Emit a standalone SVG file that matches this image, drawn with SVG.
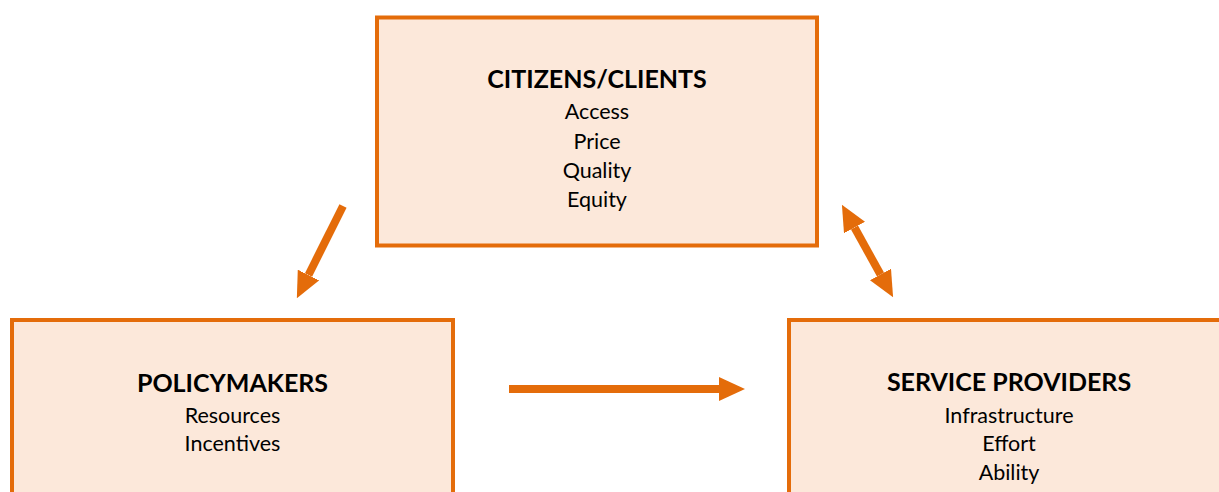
<svg xmlns="http://www.w3.org/2000/svg" width="1219" height="492" viewBox="0 0 1219 492">
<style>
.box{fill:#FCE8DA;stroke:#E46C0A;stroke-width:4}
.t{font-family:Lato,"Open Sans","Liberation Sans",sans-serif;font-weight:bold;font-size:25px;fill:#000;text-anchor:middle}
.b{font-family:Lato,"Open Sans","Liberation Sans",sans-serif;font-size:21.5px;fill:#000;text-anchor:middle}
.c{stroke:#E46C0A;stroke-width:8;fill:none}
</style>
<defs>
<marker id="ah" viewBox="0 0 26 24" refX="0" refY="12" markerWidth="26" markerHeight="24" markerUnits="userSpaceOnUse" orient="auto-start-reverse">
<path d="M0,0 L26,12 L0,24 z" fill="#E46C0A"/>
</marker>
</defs>
<rect width="1219" height="492" fill="#fff"/>
<g id="citizens">
<rect class="box" x="377" y="17.5" width="440" height="228"/>
<text class="t" x="597" y="88">CITIZENS/CLIENTS</text>
<text class="b" x="597" y="119">Access</text>
<text class="b" x="597" y="148.5">Price</text>
<text class="b" x="597" y="177.5">Quality</text>
<text class="b" x="597" y="206.5">Equity</text>
</g>
<g id="policymakers">
<rect class="box" x="12" y="320" width="441" height="180"/>
<text class="t" x="232.5" y="391.5">POLICYMAKERS</text>
<text class="b" x="232.5" y="422.5">Resources</text>
<text class="b" x="232.5" y="451">Incentives</text>
</g>
<g id="providers">
<rect class="box" x="789" y="320" width="436" height="180"/>
<text class="t" x="1009" y="391">SERVICE PROVIDERS</text>
<text class="b" x="1009" y="422.5">Infrastructure</text>
<text class="b" x="1009" y="451">Effort</text>
<text class="b" x="1009" y="480">Ability</text>
</g>
<g id="connectors">
<line class="c" x1="343" y1="206" x2="308.5" y2="275" marker-end="url(#ah)"/>
<line class="c" x1="854.5" y1="227.5" x2="880.5" y2="274.5" marker-start="url(#ah)" marker-end="url(#ah)"/>
<line class="c" x1="509" y1="389" x2="719" y2="389" marker-end="url(#ah)"/>
</g>
</svg>
